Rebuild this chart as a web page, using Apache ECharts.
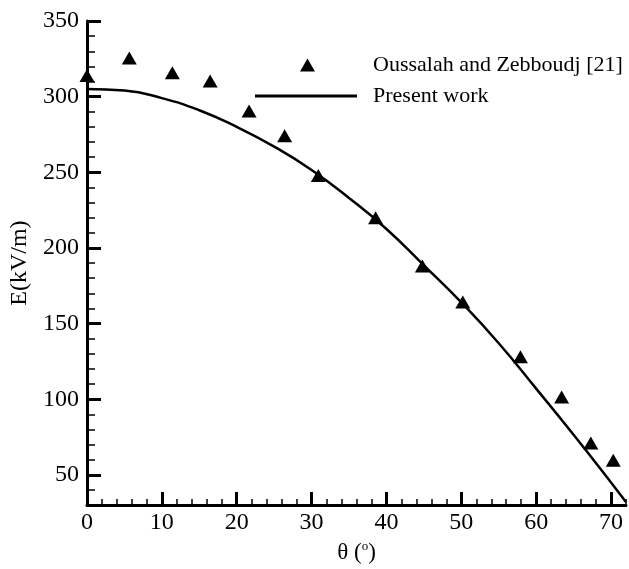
<!DOCTYPE html>
<html>
<head>
<meta charset="utf-8">
<script src="https://cdn.jsdelivr.net/npm/echarts@6/dist/echarts.min.js"></script>
<style>
html,body{margin:0;padding:0;background:#fff;}
#c{width:629px;height:569px;}
</style>
</head>
<body>
<div id="c"></div>
<script>
// Reference data: Oussalah and Zebboudj [21]
var refTheta = [0, 5.65, 11.4, 16.45, 21.65, 26.4, 30.9, 38.55, 44.8, 50.2, 57.9, 63.4, 67.3, 70.3];
var refE     = [314, 325.6, 315.8, 310.4, 290.5, 274.2, 247.8, 220, 188, 164.2, 128, 101.4, 71, 59.6];
// Present work curve
var curveTheta = [0, 5, 10, 15, 20, 25, 30, 35, 40, 45, 50, 55, 60, 65, 70, 72];
var curveE     = [305, 304, 299, 291, 280, 267, 251.5, 233, 212.5, 188.5, 164, 137, 107, 76.5, 45, 32];
// Axis ticks
var xMajor = [0, 10, 20, 30, 40, 50, 60, 70];
var xMinor = [2, 4, 6, 8, 12, 14, 16, 18, 22, 24, 26, 28, 32, 34, 36, 38, 42, 44, 46, 48, 52, 54, 56, 58, 62, 64, 66, 68, 72];
var yMajor = [50, 100, 150, 200, 250, 300, 350];
var yMinor = [40, 60, 70, 80, 90, 110, 120, 130, 140, 160, 170, 180, 190, 210, 220, 230, 240, 260, 270, 280, 290, 310, 320, 330, 340];
var seriesNames = ['Oussalah and Zebboudj [21]', 'Present work'];

var FONT = '"Liberation Serif", "Times New Roman", serif';

function zip(a, b) { return a.map(function (v, i) { return [v, b[i]]; }); }

var chart = echarts.init(document.getElementById('c'), null, {renderer: 'canvas'});
var option = {
  backgroundColor: '#ffffff',
  animation: false,
  grid: {left: 86, top: 21, right: 3, bottom: 57, containLabel: false},
  legend: [
    {
      data: [{name: seriesNames[0], icon: 'triangle'}], left: 300, top: 54, padding: 0,
      itemWidth: 15, itemHeight: 13,
      textStyle: {fontFamily: FONT, fontSize: 22, color: '#000', padding: [0, 0, 0, 53]}
    },
    {
      data: [{name: seriesNames[1], icon: 'rect'}], left: 255, top: 85, padding: 0,
      itemWidth: 102, itemHeight: 3,
      textStyle: {fontFamily: FONT, fontSize: 22, color: '#000', padding: [0, 0, 0, 11]}
    }
  ],
  xAxis: [
    {
      type: 'value', min: 0, max: 72,
      name: '{a|θ (}{s|o}{a|)}', nameLocation: 'middle', nameGap: 27,
      nameTextStyle: {
        fontFamily: FONT, fontSize: 23, color: '#000',
        rich: {
          a: {fontFamily: FONT, fontSize: 23, color: '#000'},
          s: {fontFamily: FONT, fontSize: 13, color: '#000', verticalAlign: 'top', padding: [0, 0, 12, 0]}
        }
      },
      axisLine: {show: true, lineStyle: {color: '#000', width: 3}},
      axisTick: {show: true, inside: true, length: 13, customValues: xMajor, lineStyle: {color: '#000', width: 3}},
      axisLabel: {show: true, customValues: xMajor, margin: 6, fontFamily: FONT, fontSize: 24, color: '#000'},
      splitLine: {show: false}
    },
    {
      type: 'value', min: 0, max: 72, position: 'bottom',
      axisLine: {show: false},
      axisTick: {show: true, inside: true, length: 6, customValues: xMinor, lineStyle: {color: '#000', width: 1.5}},
      axisLabel: {show: false},
      splitLine: {show: false}
    }
  ],
  yAxis: [
    {
      type: 'value', min: 30, max: 350,
      name: 'E(kV/m)', nameLocation: 'middle', nameGap: 55,
      nameTextStyle: {fontFamily: FONT, fontSize: 24, color: '#000'},
      axisLine: {show: true, lineStyle: {color: '#000', width: 3}},
      axisTick: {show: true, inside: true, length: 14, customValues: yMajor, lineStyle: {color: '#000', width: 3}},
      axisLabel: {show: true, customValues: yMajor, margin: 8, fontFamily: FONT, fontSize: 24, color: '#000'},
      splitLine: {show: false}
    },
    {
      type: 'value', min: 30, max: 350, position: 'left',
      axisLine: {show: false},
      axisTick: {show: true, inside: true, length: 8, customValues: yMinor, lineStyle: {color: '#000', width: 1.5}},
      axisLabel: {show: false},
      splitLine: {show: false}
    }
  ],
  series: [
    {
      name: seriesNames[1], type: 'line', xAxisIndex: 0, yAxisIndex: 0,
      data: zip(curveTheta, curveE), smooth: 0.5,
      symbol: 'none', showSymbol: false,
      lineStyle: {color: '#000', width: 2.5},
      itemStyle: {color: '#000'},
      z: 2
    },
    {
      name: seriesNames[0], type: 'scatter', xAxisIndex: 0, yAxisIndex: 0,
      data: zip(refTheta, refE),
      symbol: 'triangle', symbolSize: [15, 13],
      itemStyle: {color: '#000', opacity: 1},
      z: 3
    }
  ]
};
chart.setOption(option);
</script>
</body>
</html>
